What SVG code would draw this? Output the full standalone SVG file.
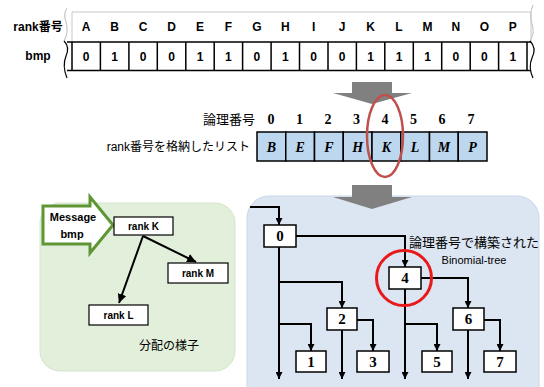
<svg xmlns="http://www.w3.org/2000/svg" width="544" height="387" viewBox="0 0 544 387">
<defs>
<style>
.jp{font-family:"Liberation Sans","Noto Sans CJK JP",sans-serif;}
.lab{font-family:"Liberation Sans","Noto Sans CJK JP",sans-serif;font-weight:bold;font-size:12px;text-anchor:middle;}
.cell{fill:#fff;stroke:#000;stroke-width:1.5;}
.lcell{fill:#bdd7ee;stroke:#000;stroke-width:1.5;}
.li{font-family:"Liberation Serif",serif;font-weight:bold;font-style:italic;font-size:14px;text-anchor:middle;}
.dg{font-family:"Liberation Serif",serif;font-weight:bold;font-size:14px;text-anchor:middle;}
.node rect{fill:#fff;stroke:#000;stroke-width:1.5;}
.node text{font-family:"Liberation Serif",serif;font-weight:bold;font-size:15px;text-anchor:middle;}
.rk rect{fill:#fff;stroke:#000;stroke-width:1.2;}
.rk text{font-family:"Liberation Sans",sans-serif;font-weight:bold;font-size:10px;text-anchor:middle;}
.con path{fill:none;stroke:#000;stroke-width:2;}
.garrow{fill:#808080;}
</style>
<marker id="ah" viewBox="0 0 10 10" refX="10" refY="5" markerWidth="7" markerHeight="7" markerUnits="userSpaceOnUse" orient="auto">
<path d="M0,0 L10,5 L0,10 z" fill="#000"/>
</marker>
<marker id="ah2" viewBox="0 0 10 10" refX="10" refY="5" markerWidth="9" markerHeight="9" markerUnits="userSpaceOnUse" orient="auto">
<path d="M0,0 L10,5 L0,10 z" fill="#000"/>
</marker>
</defs>
<rect width="544" height="387" fill="#fff"/>

<!-- top rank/bmp table -->
<g id="bitmap">
<path d="M72,42 V12 H531 V42" fill="none" stroke="#c8c8c8" stroke-width="1"/>
<path d="M67,42 H531 M67,70.5 H531" stroke="#000" stroke-width="1.5"/>
<path d="M67,8 Q63,14 66,22 Q69,32 64,41" fill="none" stroke="#c8c8c8" stroke-width="1.2"/>
<path d="M64,41 Q70,47 66,56 Q62,66 67,78" fill="none" stroke="#000" stroke-width="1.2"/>
<path d="M533,5 Q529,14 532,24 Q535,33 530,41" fill="none" stroke="#c8c8c8" stroke-width="1.2"/>
<path d="M530,41 Q537,48 532,58 Q528,67 533,78" fill="none" stroke="#000" stroke-width="1.2"/>
<g stroke="#000" stroke-width="1.5">
<path d="M72,42 V70.5 M100.4,42 V70.5 M128.9,42 V70.5 M157.3,42 V70.5 M185.8,42 V70.5 M214.2,42 V70.5 M242.6,42 V70.5 M271.1,42 V70.5 M299.5,42 V70.5 M328,42 V70.5 M356.4,42 V70.5 M384.8,42 V70.5 M413.3,42 V70.5 M441.7,42 V70.5 M470.2,42 V70.5 M498.6,42 V70.5 M527,42 V70.5"/>
</g>
<text class="lab" x="38" y="31">rank番号</text>
<text class="lab" x="38" y="60">bmp</text>
<g class="lab">
<text x="86.2" y="31">A</text><text x="114.6" y="31">B</text><text x="143.1" y="31">C</text><text x="171.5" y="31">D</text>
<text x="200" y="31">E</text><text x="228.4" y="31">F</text><text x="256.8" y="31">G</text><text x="285.3" y="31">H</text>
<text x="313.7" y="31">I</text><text x="342.2" y="31">J</text><text x="370.6" y="31">K</text><text x="399" y="31">L</text>
<text x="427.5" y="31">M</text><text x="455.9" y="31">N</text><text x="484.4" y="31">O</text><text x="512.8" y="31">P</text>
<text x="86.2" y="60.5">0</text><text x="114.6" y="60.5">1</text><text x="143.1" y="60.5">0</text><text x="171.5" y="60.5">0</text>
<text x="200" y="60.5">1</text><text x="228.4" y="60.5">1</text><text x="256.8" y="60.5">0</text><text x="285.3" y="60.5">1</text>
<text x="313.7" y="60.5">0</text><text x="342.2" y="60.5">0</text><text x="370.6" y="60.5">1</text><text x="399" y="60.5">1</text>
<text x="427.5" y="60.5">1</text><text x="455.9" y="60.5">0</text><text x="484.4" y="60.5">0</text><text x="512.8" y="60.5">1</text>
</g>
</g>

<!-- gray arrow 1 -->
<polygon class="garrow" points="352,82 392,82 392,93 412,93 372,104 333,93 352,93"/>

<!-- list -->
<g id="list">
<text class="jp" x="255" y="124" font-size="13" text-anchor="end">論理番号</text>
<text class="jp" x="250" y="151" font-size="12" text-anchor="end">rank番号を格納したリスト</text>
<g class="dg">
<text x="271" y="124">0</text><text x="299.5" y="124">1</text><text x="328" y="124">2</text><text x="356.5" y="124">3</text>
<text x="385" y="124">4</text><text x="413.5" y="124">5</text><text x="442" y="124">6</text><text x="471" y="124">7</text>
</g>
<rect class="lcell" x="257" y="132" width="28.75" height="29"/>
<rect class="lcell" x="285.75" y="132" width="28.75" height="29"/>
<rect class="lcell" x="314.5" y="132" width="28.75" height="29"/>
<rect class="lcell" x="343.25" y="132" width="28.75" height="29"/>
<rect class="lcell" x="372" y="132" width="28.75" height="29"/>
<rect class="lcell" x="400.75" y="132" width="28.75" height="29"/>
<rect class="lcell" x="429.5" y="132" width="28.75" height="29"/>
<rect class="lcell" x="458.25" y="132" width="28.75" height="29"/>
<g class="li">
<text x="271.4" y="151.5">B</text><text x="300.1" y="151.5">E</text><text x="328.9" y="151.5">F</text><text x="357.6" y="151.5">H</text>
<text x="386.4" y="151.5">K</text><text x="415.1" y="151.5">L</text><text x="443.9" y="151.5">M</text><text x="472.6" y="151.5">P</text>
</g>
</g>

<!-- panels -->
<rect id="greenPanel" x="40" y="203" width="195" height="168" rx="20" fill="#e2efda" stroke="#d5e3cc" stroke-width="1"/>
<rect id="bluePanel" x="247" y="196" width="292" height="215" rx="22" fill="#dce6f2" stroke="#c9d7e8" stroke-width="1"/>

<!-- gray arrow 2 -->
<polygon class="garrow" points="352,185 392,185 392,197 412,197 372,209 333,197 352,197"/>

<!-- red ellipse -->
<ellipse cx="385" cy="136" rx="18" ry="41" fill="none" stroke="#c0504d" stroke-width="2.5"/>

<!-- distribution panel -->
<g id="message">
<polygon points="43,206 90,206 90,197 113,225 90,253 90,244 43,244" fill="#fff" stroke="#5e9635" stroke-width="3" stroke-linejoin="miter"/>
<text x="73" y="221" font-family="Liberation Sans,sans-serif" font-weight="bold" font-size="11" text-anchor="middle">Message</text>
<text x="72" y="238" font-family="Liberation Sans,sans-serif" font-weight="bold" font-size="11" text-anchor="middle">bmp</text>
</g>
<g class="con" id="distConnectors">
<path d="M143,236 L196,262" marker-end="url(#ah2)"/>
<path d="M143,236 L119,303" marker-end="url(#ah2)"/>
</g>
<g id="rankK" class="rk"><rect x="114" y="217" width="59" height="18"/><text x="143.5" y="229.5">rank K</text></g>
<g id="rankM" class="rk"><rect x="168" y="263" width="60" height="20"/><text x="198" y="276.5">rank M</text></g>
<g id="rankL" class="rk"><rect x="89" y="305" width="59" height="20"/><text x="118.5" y="318.5">rank L</text></g>
<text class="jp" x="169" y="350" font-size="12" text-anchor="middle">分配の様子</text>

<!-- binomial tree -->
<text class="jp" x="409" y="247" font-size="13">論理番号で構築された</text>
<text x="474" y="264" font-family="Liberation Sans,sans-serif" font-size="11" text-anchor="middle">Binomial-tree</text>
<g class="con" id="treeConnectors">
<path d="M250,207 H279 V225" marker-end="url(#ah)"/>
<path d="M296,236 H405 V267" marker-end="url(#ah)"/>
<path d="M279,247 V379" marker-end="url(#ah)"/>
<path d="M279,282 H342 V308" marker-end="url(#ah)"/>
<path d="M279,324 H311 V351" marker-end="url(#ah)"/>
<path d="M342,330 V379" marker-end="url(#ah)"/>
<path d="M357,320 H373 V351" marker-end="url(#ah)"/>
<path d="M405,289 V379" marker-end="url(#ah)"/>
<path d="M405,324 H437 V351" marker-end="url(#ah)"/>
<path d="M421,278 H468 V308" marker-end="url(#ah)"/>
<path d="M468,330 V379" marker-end="url(#ah)"/>
<path d="M484,320 H500 V351" marker-end="url(#ah)"/>
</g>
<g id="n0" class="node"><rect x="264" y="225" width="32" height="22"/><text x="280" y="241">0</text></g>
<g id="n4" class="node"><rect x="389" y="267" width="32" height="22"/><text x="405" y="283">4</text></g>
<g id="n2" class="node"><rect x="327" y="308" width="30" height="22"/><text x="342" y="324">2</text></g>
<g id="n6" class="node"><rect x="453" y="308" width="31" height="22"/><text x="468.5" y="324">6</text></g>
<g id="n1" class="node"><rect x="296" y="351" width="30" height="21"/><text x="311" y="367">1</text></g>
<g id="n3" class="node"><rect x="357" y="351" width="32" height="21"/><text x="373" y="367">3</text></g>
<g id="n5" class="node"><rect x="422" y="351" width="30" height="21"/><text x="437" y="367">5</text></g>
<g id="n7" class="node"><rect x="484" y="351" width="32" height="21"/><text x="500" y="367">7</text></g>
<circle cx="404" cy="278" r="27.5" fill="none" stroke="#e8191b" stroke-width="3"/>
</svg>
